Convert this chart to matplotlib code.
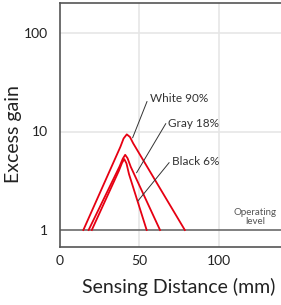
import matplotlib
matplotlib.use("Agg")
import matplotlib.pyplot as plt

plt.rcParams['font.family'] = ['Lato', 'DejaVu Sans']

# Data
white_x = [14.7, 38.0, 40.0, 42.0, 44.0, 46.0, 78.5]
white_y = [1.0, 7.0, 8.5, 9.35, 8.8, 7.6, 1.0]
gray_x = [18.0, 37.5, 39.5, 41.0, 42.5, 44.5, 62.9]
gray_y = [1.0, 4.43, 5.3, 5.8, 5.35, 4.38, 1.0]
black_x = [20.0, 37.0, 39.0, 40.4, 41.8, 43.4, 54.5]
black_y = [1.0, 3.98, 4.8, 5.25, 4.75, 3.69, 1.0]

labels = ["White 90%", "Gray 18%", "Black 6%"]
label_text_xy = [(56.6, 21.5), (67.9, 12.0), (70.4, 4.94)]
leader_start = [(54.7, 20.1), (66.5, 12.0), (68.6, 4.82)]
leader_end = [(45.7, 8.65), (48.2, 3.82), (49.1, 1.98)]

x_ticks = [0, 50, 100]
y_ticks = [1, 10, 100]
y_tick_labels = ["1", "10", "100"]
operating_level = 1.0

fig = plt.figure(figsize=(2.81, 3.05), dpi=100)
ax = fig.add_axes([60/281, 1-247/305, 1-60/281, (247-3)/305])
ax.set_yscale('log')

grid_c = '#e6e6e6'
for xv in x_ticks[1:]:
    ax.axvline(xv, color=grid_c, lw=1.2, zorder=0)
for yv in y_ticks[1:]:
    ax.axhline(yv, color=grid_c, lw=1.2, zorder=0)

ax.axhline(operating_level, color='#6b6b6b', lw=1.2, zorder=2)

red = '#e60012'
for xs, ys in [(white_x, white_y), (gray_x, gray_y), (black_x, black_y)]:
    ax.plot(xs, ys, color=red, lw=1.3, solid_joinstyle='round', zorder=3)

for lab, txy, s, e in zip(labels, label_text_xy, leader_start, leader_end):
    ax.plot([s[0], e[0]], [s[1], e[1]], color='#333333', lw=0.7, zorder=4)
    ax.text(txy[0], txy[1], lab, fontsize=8.5, color='#333333', ha='left',
            va='center')

ax.text(122.6, 1.35, "Operating\nlevel", fontsize=7.0, color='#555555',
        ha='center', va='center', linespacing=1.0)

ax.set_xticks(x_ticks)
ax.set_yticks(y_ticks)
ax.set_yticklabels(y_tick_labels)
ax.yaxis.set_minor_locator(matplotlib.ticker.NullLocator())
ax.set_xlim(0, 139)
ax.set_ylim(10**(-17/98.5), 10**(2+30/98.5))
ax.tick_params(axis='both', length=0, labelsize=10, colors='#222222')
ax.tick_params(axis='y', pad=9)
ax.tick_params(axis='x', pad=6)

for sp in ['left', 'bottom', 'top', 'right']:
    ax.spines[sp].set_color('#555555')
    ax.spines[sp].set_linewidth(1.2)
ax.spines['right'].set_visible(False)

ax.set_xlabel("Sensing Distance (mm)", fontsize=14, color='#222222', va='center')
ax.set_ylabel("Excess gain", fontsize=14, color='#222222', va='center')
ax.xaxis.set_label_coords((179-60)/221, (247-287)/244)
ax.yaxis.set_label_coords((14-60)/221, (247-134)/244)

fig.savefig("out.png", dpi=100)
